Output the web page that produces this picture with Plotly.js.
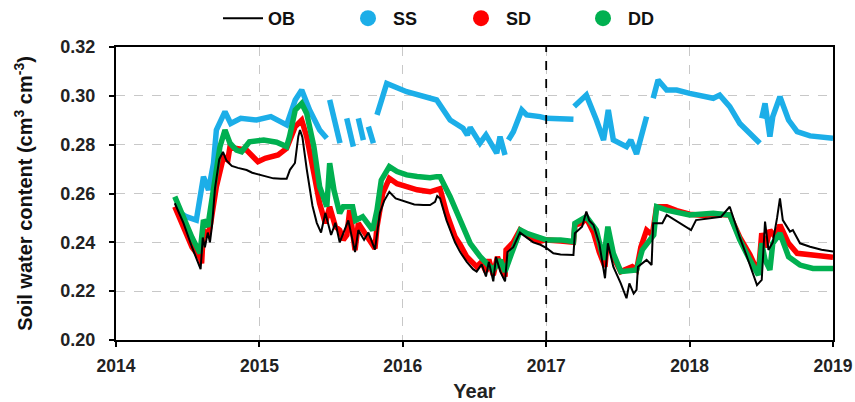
<!DOCTYPE html>
<html><head><meta charset="utf-8">
<script src="https://cdn.plot.ly/plotly-3.0.1.min.js"></script>
<style>html,body{margin:0;padding:0;background:#fff}#c{width:855px;height:402px}</style>
</head><body><div id="c"></div>
<script>
// OB (black line)
var obYear=[2014.41,2014.47,2014.53,2014.59,2014.605,2014.62,2014.64,2014.655,2014.67,2014.69,2014.72,2014.746,2014.77,2014.807,2014.85,2014.911,2014.95,2015.004,2015.05,2015.097,2015.15,2015.19,2015.213,2015.248,2015.271,2015.283,2015.30,2015.33,2015.37,2015.40,2015.43,2015.46,2015.50,2015.53,2015.56,2015.585,2015.62,2015.667,2015.69,2015.73,2015.76,2015.806,2015.82,2015.84,2015.87,2015.906,2015.95,2016.027,2016.08,2016.143,2016.19,2016.225,2016.24,2016.26,2016.305,2016.364,2016.40,2016.446,2016.49,2016.515,2016.55,2016.58,2016.60,2016.631,2016.65,2016.68,2016.713,2016.73,2016.77,2016.817,2016.86,2016.91,2016.96,2017.003,2017.05,2017.10,2017.19,2017.20,2017.25,2017.28,2017.30,2017.33,2017.37,2017.41,2017.43,2017.468,2017.52,2017.56,2017.58,2017.61,2017.63,2017.64,2017.70,2017.735,2017.746,2017.81,2017.84,2017.91,2018.01,2018.045,2018.10,2018.165,2018.22,2018.28,2018.31,2018.35,2018.40,2018.44,2018.47,2018.503,2018.526,2018.55,2018.58,2018.61,2018.63,2018.65,2018.70,2018.72,2018.77,2018.84,2018.92,2019.0];
var obVal=[0.256,0.248,0.238,0.229,0.242,0.238,0.244,0.240,0.247,0.262,0.274,0.277,0.2735,0.2713,0.2705,0.2696,0.2685,0.2676,0.2668,0.2662,0.266,0.266,0.2697,0.2725,0.2833,0.286,0.283,0.270,0.255,0.248,0.244,0.252,0.243,0.248,0.240,0.244,0.249,0.236,0.245,0.241,0.244,0.237,0.244,0.252,0.257,0.2607,0.258,0.2566,0.2555,0.2553,0.2553,0.2566,0.259,0.258,0.249,0.240,0.236,0.232,0.229,0.228,0.231,0.226,0.232,0.224,0.234,0.228,0.224,0.236,0.238,0.244,0.242,0.240,0.239,0.2376,0.2355,0.235,0.2348,0.2437,0.2464,0.2526,0.249,0.2471,0.2396,0.2253,0.2396,0.230,0.2232,0.2171,0.2232,0.219,0.2205,0.230,0.2328,0.2307,0.2478,0.2478,0.2512,0.2485,0.245,0.2491,0.2495,0.2498,0.2505,0.2546,0.2491,0.242,0.2341,0.227,0.2225,0.2246,0.2485,0.2369,0.240,0.250,0.258,0.2491,0.2444,0.245,0.2396,0.2382,0.237,0.2362];

// SS (blue dots)
var ssYear=[2014.42,2014.49,2014.56,2014.61,2014.645,2014.68,2014.70,2014.76,2014.80,2014.87,2014.98,2015.08,2015.19,2015.25,2015.295,2015.35,2015.42,2015.47,null,2015.49,2015.562,null,2015.609,2015.655,null,2015.69,2015.725,null,2015.76,2015.795,null,2015.82,2015.888,2016.027,2016.143,2016.236,2016.33,2016.42,2016.45,2016.47,2016.538,2016.58,2016.655,2016.678,2016.713,null,2016.736,2016.771,2016.83,2016.864,2016.957,2017.003,2017.19,null,2017.195,2017.28,2017.35,2017.40,2017.433,2017.468,2017.56,2017.59,2017.63,2017.70,null,2017.746,2017.78,2017.84,2017.91,2018.0,2018.165,2018.21,2018.28,2018.35,2018.42,2018.49,null,2018.503,2018.526,2018.56,2018.58,2018.63,2018.69,2018.75,2018.84,2019.0];
var ssVal=[0.2532,0.2505,0.2491,0.2669,0.2614,0.2724,0.286,0.2935,0.2887,0.2908,0.2901,0.2915,0.2881,0.2983,0.3024,0.2942,0.286,0.2826,null,0.2983,0.2806,null,0.2908,0.2792,null,0.2908,0.2819,null,0.2874,0.2806,null,0.2922,0.3051,0.3017,0.2996,0.2983,0.2901,0.2867,0.284,0.287,0.2806,0.284,0.2765,0.2833,0.2758,null,0.2819,0.2853,0.2942,0.2922,0.2915,0.2908,0.2904,null,0.2956,0.3003,0.2901,0.2819,0.2942,0.2819,0.2792,0.2819,0.2762,0.2915,null,0.2990,0.3065,0.3024,0.3024,0.301,0.299,0.3003,0.2956,0.2887,0.2847,0.2806,null,0.2908,0.2969,0.2833,0.2915,0.2996,0.2901,0.2853,0.2836,0.2826];

// SD (red dots)
var sdYear=[2014.41,2014.47,2014.53,2014.59,2014.597,2014.61,2014.64,2014.66,2014.70,2014.75,2014.78,2014.795,2014.83,2014.91,2014.99,2015.04,2015.13,2015.19,2015.25,2015.295,2015.33,2015.38,2015.42,2015.46,2015.49,2015.53,2015.56,2015.585,2015.61,2015.63,2015.667,2015.69,2015.72,2015.76,2015.806,2015.82,2015.84,2015.86,2015.906,2015.96,2016.027,2016.10,2016.19,2016.236,2016.26,2016.305,2016.364,2016.40,2016.446,2016.515,2016.55,2016.58,2016.60,2016.631,2016.66,2016.69,2016.713,2016.72,2016.77,2016.817,2016.86,2016.91,2016.96,2017.0,2017.10,2017.19,2017.20,2017.25,2017.28,2017.33,2017.37,2017.41,2017.43,2017.468,2017.52,2017.56,2017.60,2017.63,2017.66,2017.70,2017.74,2017.77,2017.84,2017.91,2018.0,2018.1,2018.165,2018.28,2018.35,2018.42,2018.48,2018.503,2018.53,2018.56,2018.60,2018.63,2018.69,2018.75,2018.84,2019.0];
var sdVal=[0.2546,0.246,0.238,0.2334,0.2314,0.245,0.2423,0.2478,0.2628,0.2751,0.2737,0.2792,0.2785,0.2778,0.273,0.2744,0.2758,0.2785,0.2874,0.290,0.2833,0.2683,0.256,0.2478,0.2546,0.2464,0.245,0.241,0.243,0.2532,0.2368,0.2478,0.245,0.2423,0.2375,0.2464,0.2546,0.260,0.2662,0.264,0.2628,0.2615,0.2607,0.2614,0.262,0.2519,0.2423,0.239,0.2341,0.230,0.232,0.228,0.233,0.2266,0.234,0.229,0.2259,0.2369,0.240,0.245,0.243,0.241,0.2405,0.241,0.2405,0.240,0.247,0.248,0.250,0.244,0.236,0.230,0.2440,0.234,0.228,0.229,0.230,0.2287,0.238,0.245,0.243,0.2546,0.2546,0.253,0.2515,0.251,0.2515,0.2512,0.242,0.235,0.2275,0.2437,0.238,0.245,0.242,0.2471,0.2396,0.2355,0.235,0.2339];

// DD (green dots)
var ddYear=[2014.41,2014.47,2014.53,2014.586,2014.61,2014.64,2014.66,2014.725,2014.76,2014.795,2014.84,2014.876,2014.93,2015.03,2015.12,2015.19,2015.21,2015.25,2015.295,2015.33,2015.38,2015.42,2015.47,2015.49,2015.52,2015.56,2015.585,2015.62,2015.65,2015.67,2015.72,2015.79,2015.82,2015.85,2015.906,2015.96,2016.027,2016.10,2016.19,2016.236,2016.26,2016.33,2016.40,2016.47,2016.54,2016.58,2016.63,2016.68,2016.713,2016.75,2016.82,2016.864,2016.957,2017.0,2017.10,2017.19,2017.20,2017.28,2017.35,2017.40,2017.43,2017.468,2017.52,2017.60,2017.63,2017.67,2017.75,2017.77,2017.84,2018.0,2018.165,2018.28,2018.35,2018.42,2018.48,2018.503,2018.526,2018.56,2018.58,2018.63,2018.69,2018.77,2018.86,2019.0];
var ddVal=[0.2587,0.250,0.242,0.2355,0.2491,0.2464,0.2546,0.2792,0.286,0.2806,0.2778,0.2771,0.2812,0.2819,0.281,0.2792,0.2833,0.2942,0.2969,0.2928,0.2792,0.2628,0.2546,0.2724,0.2614,0.2519,0.2546,0.2546,0.2546,0.249,0.2505,0.245,0.2532,0.2655,0.271,0.269,0.2676,0.267,0.2665,0.2669,0.2669,0.2587,0.2491,0.2396,0.2341,0.2314,0.2287,0.2328,0.228,0.2341,0.245,0.2437,0.2415,0.241,0.241,0.2403,0.2478,0.2505,0.245,0.2328,0.2464,0.2355,0.228,0.2285,0.2287,0.2369,0.243,0.2546,0.2532,0.2512,0.2519,0.2512,0.241,0.2328,0.2266,0.2396,0.2328,0.2287,0.2396,0.2437,0.2341,0.2307,0.2293,0.2293];

var seriesNames=['OB','SS','SD','DD'];
var seriesColors=['#000000','#1CAEE8','#FF0000','#00B050'];
var xTicks=[2014,2015,2016,2017,2018,2019];
var yTicks=[0.20,0.22,0.24,0.26,0.28,0.30,0.32];
var dividerYear=[2017];

var F='Liberation Sans, Arial, sans-serif';
function dots(x,y,i){return {x:x,y:y,type:'scatter',mode:'lines',name:seriesNames[i],showlegend:false,
  line:{color:seriesColors[i],width:5.5},hoverinfo:'skip'};}
var traces=[
  dots(ssYear,ssVal,1),
  dots(sdYear,sdVal,2),
  dots(ddYear,ddVal,3),
  {x:obYear,y:obVal,type:'scatter',mode:'lines',name:'OB',line:{color:seriesColors[0],width:2},legend:'legend'},
  {x:[null],y:[null],type:'scatter',mode:'markers',name:'SS',marker:{color:seriesColors[1],size:16},legend:'legend2'},
  {x:[null],y:[null],type:'scatter',mode:'markers',name:'SD',marker:{color:seriesColors[2],size:16},legend:'legend3'},
  {x:[null],y:[null],type:'scatter',mode:'markers',name:'DD',marker:{color:seriesColors[3],size:16},legend:'legend4'}
];
function leg(px){return {orientation:'h',xref:'container',yref:'container',x:px/855,xanchor:'left',y:1,yanchor:'top',
    font:{family:F,size:18,weight:'bold',color:'#111'},itemwidth:40,bgcolor:'rgba(0,0,0,0)'};}

var layout={
  width:855,height:402,
  margin:{l:116,r:22,t:47,b:62},
  paper_bgcolor:'#fff',plot_bgcolor:'#fff',
  font:{family:F,color:'#222'},
  showlegend:true,
  legend:leg(218),legend2:leg(343),legend3:leg(456),legend4:leg(578),
  xaxis:{range:[2014,2019],tickvals:xTicks,ticktext:xTicks.map(String),
    showline:true,linecolor:'#000',linewidth:2,mirror:true,
    ticks:'outside',ticklen:5,tickwidth:2,tickcolor:'#000',ticklabelstandoff:4,
    showgrid:true,gridcolor:'#c8c8c8',gridwidth:1,griddash:'dash',zeroline:false,
    tickfont:{family:F,size:17.5,weight:'bold',color:'#222'},
    title:{text:'Year',font:{family:F,size:20,weight:'bold',color:'#222'},standoff:10}},
  yaxis:{range:[0.20,0.32],tickvals:yTicks,ticktext:yTicks.map(function(v){return v.toFixed(2);}),
    showline:true,linecolor:'#000',linewidth:2,mirror:true,
    ticks:'outside',ticklen:5,tickwidth:2,tickcolor:'#000',ticklabelstandoff:10,
    showgrid:true,gridcolor:'#c8c8c8',gridwidth:1,griddash:'dash',zeroline:false,
    tickfont:{family:F,size:18,weight:'bold',color:'#222'},
    title:{text:'Soil water content (cm<sup>3</sup> cm<sup>-3</sup>)',font:{family:F,size:20,weight:'bold',color:'#111'},standoff:22}},
  shapes:dividerYear.map(function(yr){return {type:'line',xref:'x',yref:'paper',x0:yr,x1:yr,y0:0,y1:1,
    line:{color:'#000',width:1.8,dash:'dash'}};})
};
Plotly.newPlot('c',traces,layout,{staticPlot:true,displayModeBar:false});
</script></body></html>
